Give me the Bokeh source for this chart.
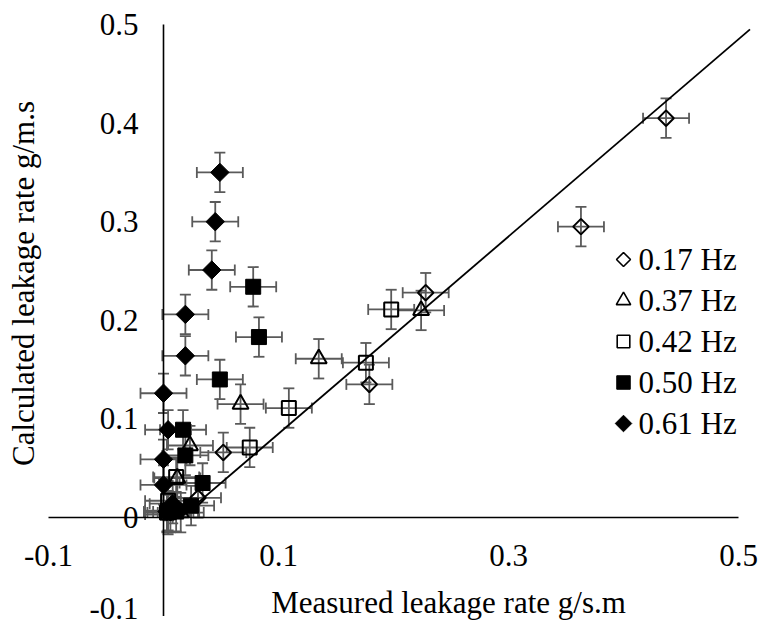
import numpy as np
from bokeh.plotting import figure
from bokeh.models import Range1d, ColumnDataSource, Whisker, TeeHead
from bokeh.core.properties import value
from bokeh.embed import file_html
from bokeh.resources import INLINE

# ---------------- data ----------------
series_names = ["0.17 Hz", "0.37 Hz", "0.42 Hz", "0.50 Hz", "0.61 Hz"]

x_017 = [0.437, 0.363, 0.228, 0.179, 0.052, 0.030, 0.006]
y_017 = [0.405, 0.295, 0.228, 0.135, 0.066, 0.020, 0.005]

x_037 = [0.224, 0.135, 0.067, 0.023, 0.012, 0.015, 0.004]
y_037 = [0.210, 0.161, 0.115, 0.073, 0.040, 0.005, 0.003]

x_042 = [0.198, 0.176, 0.109, 0.075, 0.011, 0.004, 0.003]
y_042 = [0.211, 0.157, 0.111, 0.071, 0.041, 0.017, 0.005]

x_050 = [0.078, 0.083, 0.049, 0.017, 0.019, 0.034, 0.024, 0.004, 0.011]
y_050 = [0.234, 0.183, 0.140, 0.089, 0.063, 0.035, 0.012, 0.007, 0.006]

x_061 = [0.049, 0.045, 0.042, 0.019, 0.019, 0.000, 0.004, 0.000, 0.000, 0.008, 0.003]
y_061 = [0.350, 0.300, 0.251, 0.206, 0.164, 0.126, 0.089, 0.059, 0.033, 0.014, 0.006]

err_x = 0.02
err_y = 0.02

ref_x = [0.015, 0.510]
ref_y = [0.000, 0.495]

x_tick_values = [-0.1, 0.1, 0.3, 0.5]
y_tick_values = [-0.1, 0.0, 0.1, 0.2, 0.3, 0.4, 0.5]
axis_min, axis_max = -0.1, 0.5

x_title = "Measured leakage rate g/s.m"
y_title = "Calculated leakage rate g/m.s"

# ---------------- layout ----------------
W, H = 761, 628
X0PX, SX = 163.0, 1150.0   # canvas px of x=0, px per unit
Y0PX, SY = 517.0, 986.0    # canvas px of y=0, px per unit


def cx(px):
    return (px - X0PX) / SX


def cy(py):
    return (Y0PX - py) / SY


FONT = value("Liberation Serif, Times New Roman, serif")
FS = value("31px")
ERR_COLOR = "#5a5a5a"

p = figure(width=W, height=H, output_backend="svg", toolbar_location=None,
           x_range=Range1d(cx(0), cx(W)), y_range=Range1d(cy(H), cy(0)),
           x_axis_location=None, y_axis_location=None, min_border=0)
p.outline_line_color = None
p.xgrid.grid_line_color = None
p.ygrid.grid_line_color = None
p.background_fill_color = "white"

# axes lines crossing at zero
p.segment(x0=[axis_min, 0.0], y0=[0.0, axis_min], x1=[axis_max, 0.0], y1=[0.0, axis_max],
          line_color="black", line_width=1.6)

# tick labels (kept inside the canvas)
xt = [min(v, cx(W - 21)) for v in x_tick_values]
p.text(x=xt, y=[cy(555)] * len(xt), text=[f"{v:g}" for v in x_tick_values],
       text_font=FONT, text_font_size=FS, text_align=value("center"),
       text_baseline=value("middle"), text_color="black")
ylab_y = [max(v, cy(H - 20)) for v in y_tick_values]
p.text(x=[cx(138)] * len(y_tick_values), y=ylab_y, text=[f"{v:g}" for v in y_tick_values],
       text_font=FONT, text_font_size=FS, text_align=value("right"),
       text_baseline=value("middle"), text_color="black")

# axis titles
p.text(x=[cx(448)], y=[cy(602)], text=[x_title], text_font=FONT, text_font_size=FS,
       text_align=value("center"), text_baseline=value("middle"), text_color="black")
p.text(x=[cx(23)], y=[cy(283)], text=[y_title], text_font=FONT, text_font_size=FS,
       angle=np.pi / 2, text_align=value("center"), text_baseline=value("middle"),
       text_color="black")

# 1:1 reference line
p.line(ref_x, ref_y, line_color="black", line_width=1.8)

styles = [
    dict(marker="square", angle=np.pi / 4, size=11, fill_color=None, line_width=2),
    dict(marker="triangle", angle=0.0, size=16, fill_color=None, line_width=2),
    dict(marker="square", angle=0.0, size=14, fill_color=None, line_width=2),
    dict(marker="square", angle=0.0, size=15, fill_color="black", line_width=1),
    dict(marker="square", angle=np.pi / 4, size=13, fill_color="black", line_width=1),
]
data = [(x_017, y_017), (x_037, y_037), (x_042, y_042), (x_050, y_050), (x_061, y_061)]

for (xs, ys), st in zip(data, styles):
    xs = np.array(xs)
    ys = np.array(ys)
    src = ColumnDataSource(dict(x=xs, y=ys, xl=xs - err_x, xu=xs + err_x,
                                yl=ys - err_y, yu=ys + err_y))
    for base, lo, up, dim in (("y", "xl", "xu", "width"), ("x", "yl", "yu", "height")):
        w = Whisker(source=src, base=base, lower=lo, upper=up, dimension=dim,
                    line_color=ERR_COLOR, line_width=1.8,
                    upper_head=TeeHead(size=11, line_color=ERR_COLOR, line_width=1.8),
                    lower_head=TeeHead(size=11, line_color=ERR_COLOR, line_width=1.8))
        p.add_layout(w)

for (xs, ys), st in zip(data, styles):
    p.scatter(x=xs, y=ys, marker=st["marker"], angle=st["angle"], size=st["size"],
              fill_color=st["fill_color"], line_color="black", line_width=st["line_width"])

# legend (manual, so the diamonds keep their orientation)
leg_rows = [259 + 41 * i for i in range(len(series_names))]
for name, st, row in zip(series_names, styles, leg_rows):
    sz = st["size"] * 0.9
    p.scatter(x=[cx(623)], y=[cy(row)], marker=st["marker"], angle=st["angle"], size=sz,
              fill_color=st["fill_color"], line_color="black",
              line_width=1.6 if st["fill_color"] is None else 1)
    p.text(x=[cx(638)], y=[cy(row)], text=[name], text_font=FONT, text_font_size=FS,
           text_align=value("left"), text_baseline=value("middle"), text_color="black")

open("out.html", "w").write(file_html(p, INLINE))
